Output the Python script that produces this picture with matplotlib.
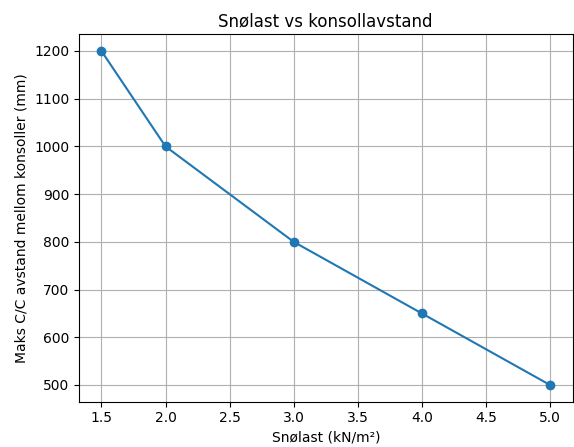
import matplotlib
matplotlib.use("Agg")
import matplotlib.pyplot as plt

snolast = [1.5, 2.0, 3.0, 4.0, 5.0]
avstand = [1200, 1000, 800, 650, 500]

fig = plt.figure(figsize=(5.74, 4.47), dpi=100)
ax = fig.add_axes([79/574, 1-401.7/447, (572.5-79)/574, (401.7-34.3)/447])
ax.plot(snolast, avstand, marker='o')
ax.set_title("Snølast vs konsollavstand")
ax.set_xlabel("Snølast (kN/m²)")
ax.set_ylabel("Maks C/C avstand mellom konsoller (mm)")
ax.grid(True)
fig.savefig("out.png", dpi=100)
